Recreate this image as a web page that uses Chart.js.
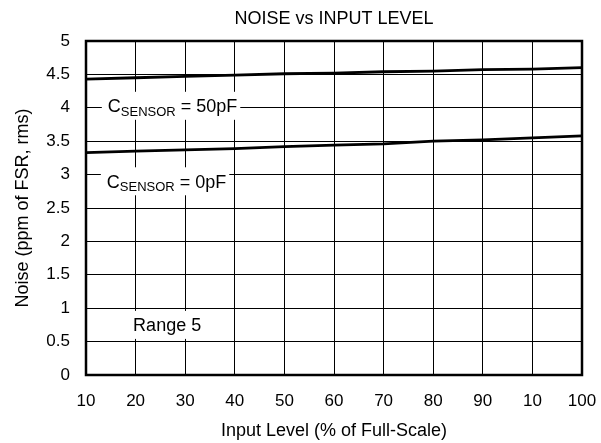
<!DOCTYPE html>
<html><head><meta charset="utf-8">
<script src="https://cdn.jsdelivr.net/npm/chart.js@4.4.1/dist/chart.umd.min.js"></script>
<style>html,body{margin:0;padding:0;background:#fff}</style>
</head><body>
<canvas id="c" width="601" height="443"></canvas>
<script>
const categories = ["10","20","30","40","50","60","70","80","90","10","100"];
const noise50pF = [4.43,4.45,4.47,4.49,4.51,4.52,4.54,4.55,4.57,4.58,4.60];
const noise0pF = [3.33,3.35,3.37,3.39,3.42,3.44,3.46,3.50,3.52,3.55,3.58];
const yTickLabels = ["0","0.5","1","1.5","2","2.5","3","3.5","4","4.5","5"];
const annotations = [
  {main:"C", sub:"SENSOR", rest:" = 50pF", x:0.44, y:4.03},
  {main:"C", sub:"SENSOR", rest:" = 0pF", x:0.42, y:2.90},
  {main:"Range 5", sub:"", rest:"", x:0.95, y:0.75}
];

const FONT = "'Liberation Sans', Arial, Helvetica, sans-serif";
Chart.defaults.font.family = FONT;
Chart.defaults.color = '#000';

const labelPlugin = {
  id: 'labels',
  beforeDatasetsDraw(chart) {
    const ctx = chart.ctx;
    const xs = chart.scales.x, ys = chart.scales.y;
    ctx.save();
    annotations.forEach(a => {
      const px = xs.getPixelForValue(a.x);
      const py = ys.getPixelForValue(a.y);
      const mainF = "18px " + FONT, subF = "13px " + FONT;
      ctx.font = mainF; const w1 = ctx.measureText(a.main).width;
      ctx.font = subF; const w2 = a.sub ? ctx.measureText(a.sub).width : 0;
      ctx.font = mainF; const w3 = a.rest ? ctx.measureText(a.rest).width : 0;
      const total = w1 + w2 + w3;
      ctx.fillStyle = '#fff';
      ctx.fillRect(px - 6, py - 14, total + 9, 28);
      ctx.fillStyle = '#000';
      ctx.textBaseline = 'alphabetic';
      ctx.textAlign = 'left';
      const base = py + 6.5;
      ctx.font = mainF; ctx.fillText(a.main, px, base);
      if (a.sub) { ctx.font = subF; ctx.fillText(a.sub, px + w1, base + 3.5); }
      if (a.rest) { ctx.font = mainF; ctx.fillText(a.rest, px + w1 + w2, base); }
    });
    ctx.restore();
  },
  afterDraw(chart) {
    const {ctx, chartArea: a} = chart;
    ctx.save();
    ctx.strokeStyle = '#000';
    ctx.lineWidth = 2.5;
    ctx.strokeRect(a.left, a.top, a.right - a.left, a.bottom - a.top);
    ctx.restore();
  }
};

new Chart(document.getElementById('c'), {
  type: 'line',
  data: {
    labels: categories,
    datasets: [
      {label: 'CSENSOR = 50pF', data: noise50pF, borderColor: '#000', borderWidth: 2.8, pointRadius: 0, tension: 0, fill: false},
      {label: 'CSENSOR = 0pF', data: noise0pF, borderColor: '#000', borderWidth: 2.8, pointRadius: 0, tension: 0, fill: false}
    ]
  },
  options: {
    responsive: false,
    animation: false,
    devicePixelRatio: 1,
    layout: {padding: {left: 0, right: 19, top: 0, bottom: 0}},
    plugins: {
      legend: {display: false},
      tooltip: {enabled: false},
      title: {display: true, text: 'NOISE vs INPUT LEVEL', fullSize: false, color: '#000',
        font: {size: 18, weight: 'normal'}, padding: {top: 8, bottom: 11.4}}
    },
    scales: {
      x: {
        type: 'category', offset: false,
        grid: {color: '#000', lineWidth: 1, drawTicks: false},
        border: {display: false},
        ticks: {font: {size: 17}, color: '#000', padding: 16, maxRotation: 0, autoSkip: false},
        title: {display: true, text: 'Input Level (% of Full-Scale)', color: '#000', font: {size: 18}, padding: {top: 0, bottom: 1}},
        afterFit(s) { s.height = 68; s.paddingLeft = 0; s.paddingRight = 0; }
      },
      y: {
        min: 0, max: 5,
        grid: {color: '#000', lineWidth: 1, drawTicks: false},
        border: {display: false},
        ticks: {stepSize: 0.5, font: {size: 17}, color: '#000', padding: 16,
          callback: v => yTickLabels[Math.round(v * 2)]},
        title: {display: true, text: 'Noise (ppm of FSR, rms)', color: '#000', font: {size: 18}, padding: {top: 12, bottom: 0}},
        afterFit(s) { s.width = 86; s.paddingTop = 0; s.paddingBottom = 0; }
      }
    }
  },
  plugins: [labelPlugin]
});
</script>
</body></html>
